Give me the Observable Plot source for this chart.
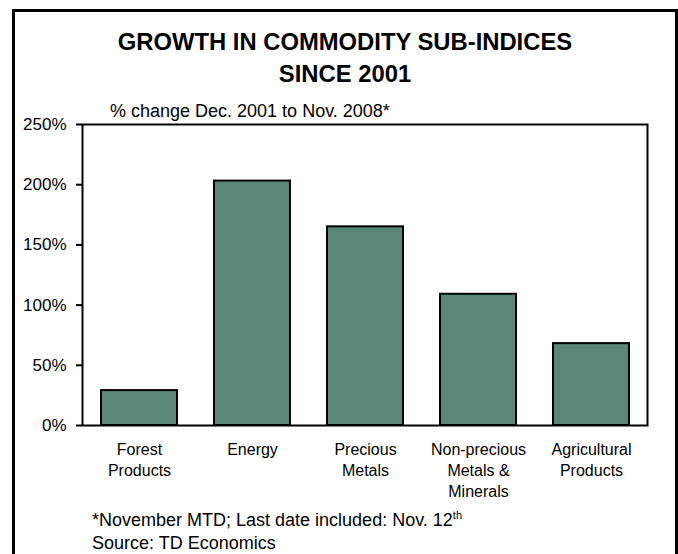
<!DOCTYPE html>
<html>
<head>
<meta charset="utf-8">
<script src="https://cdn.jsdelivr.net/npm/d3@7"></script>
<script src="https://cdn.jsdelivr.net/npm/@observablehq/plot@0.6"></script>
<style>
  html, body { margin: 0; padding: 0; background: white; width: 678px; height: 554px; overflow: hidden; }
  body { position: relative; font-family: "Liberation Sans", Arial, sans-serif; color: black; }
  #frame { position: absolute; left: 12px; top: 9px; width: 660px; height: 600px; border: 3px solid black; }
  #title { position: absolute; left: 15px; width: 660px; top: 26px; text-align: center; font-weight: bold; font-size: 23.8px; line-height: 32px; }
  #subtitle { position: absolute; left: 110px; top: 101px; font-size: 18px; line-height: 20px; white-space: nowrap; }
  #chart { position: absolute; left: 15px; top: 110px; }
  #note { position: absolute; left: 92px; top: 509px; font-size: 18px; line-height: 23px; white-space: nowrap; }
  #note sup { font-size: 11px; vertical-align: 7px; line-height: 0; }
</style>
</head>
<body>
<div id="frame"></div>
<div id="title">GROWTH IN COMMODITY SUB-INDICES<br>SINCE 2001</div>
<div id="chart"></div>
<div id="subtitle">% change Dec. 2001 to Nov. 2008*</div>
<div id="note">*November MTD; Last date included: Nov. 12<sup>th</sup><br>Source: TD Economics</div>
<script>
const categories = ["Forest\nProducts", "Energy", "Precious\nMetals", "Non-precious\nMetals &\nMinerals", "Agricultural\nProducts"];
const values = [29, 203, 165, 109, 68];
const yTicks = [0, 50, 100, 150, 200, 250];

const data = categories.map((c, i) => ({category: c, value: values[i]}));

const chart = Plot.plot({
  width: 660,
  height: 400,
  marginLeft: 67,
  marginRight: 28,
  marginTop: 14,
  marginBottom: 85,
  style: {fontFamily: "'Liberation Sans', Arial, sans-serif", background: "transparent", color: "black", overflow: "visible"},
  x: {domain: categories, paddingInner: 0.33, paddingOuter: 0.165},
  y: {domain: [0, 250]},
  marks: [
    Plot.barY(data, {x: "category", y: "value", fill: "#5b8776", stroke: "black", strokeWidth: 2}),
    Plot.frame({stroke: "black", strokeWidth: 2}),
    Plot.axisY({ticks: yTicks, tickFormat: d => d + "%", tickSize: 6, tickPadding: 10, fontSize: 17, label: null, strokeWidth: 2, color: "black"}),
    Plot.axisX({tickSize: 0, tickPadding: 15, fontSize: 16, lineHeight: 1.3, label: null, color: "black"})
  ]
});
document.getElementById("chart").appendChild(chart);
</script>
</body>
</html>
